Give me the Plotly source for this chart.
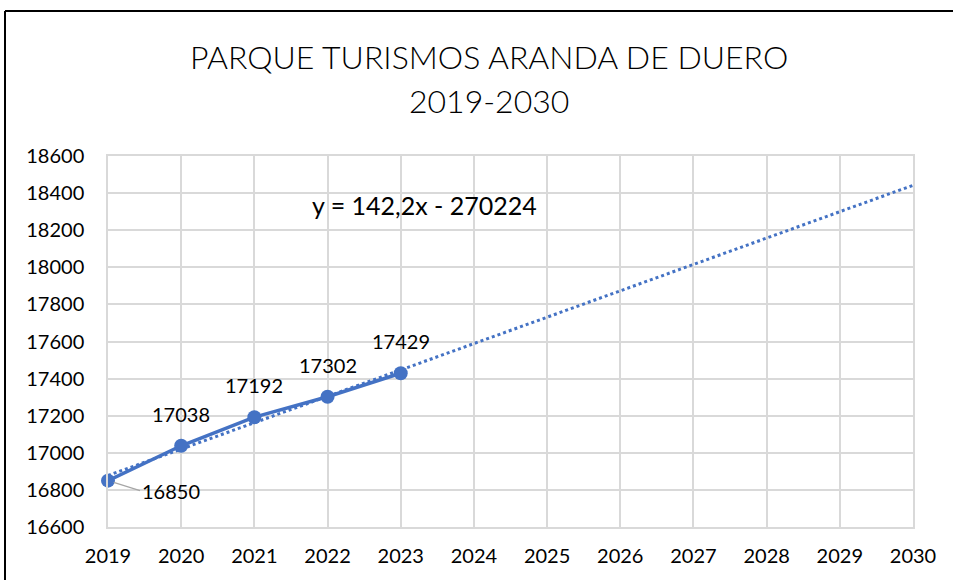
import plotly.graph_objects as go

years = [2019, 2020, 2021, 2022, 2023]
values = [16850, 17038, 17192, 17302, 17429]
trend_years = [2019, 2030]
slope = 142.2
intercept = -270224
trend_values = [slope * x + intercept for x in trend_years]
y_ticks = list(range(16600, 18601, 200))
x_ticks = list(range(2019, 2031))

BLUE = "#4472C4"
FONT = "Lato"
L, T, R, B = 108, 156, 913, 527
W, H = 953, 580


def px(xp):
    return (xp - L) / (R - L)


def py(yp):
    return (B - yp) / (B - T)


fig = go.Figure()
fig.add_trace(go.Scatter(x=trend_years, y=trend_values, mode="lines", cliponaxis=False,
                         line=dict(color=BLUE, width=3, dash="dot"), hoverinfo="skip"))
fig.add_trace(go.Scatter(x=years, y=values, mode="lines+markers", cliponaxis=False,
                         line=dict(color=BLUE, width=3.5),
                         marker=dict(color=BLUE, size=14)))

# data labels
for i, (x, v) in enumerate(zip(years, values)):
    if i == 0:
        fig.add_annotation(x=x, y=v, text=str(v), showarrow=True, ax=32, ay=10,
                           arrowhead=0, arrowcolor="#a6a6a6", arrowwidth=1.2,
                           xanchor="left", yanchor="middle", standoff=6,
                           font=dict(family=FONT, size=20, color="#000"))
    else:
        fig.add_annotation(x=x, y=v, text=str(v), showarrow=False, yshift=32,
                           font=dict(family=FONT, size=20, color="#000"))

fig.add_annotation(x=2023.33, y=18336, text="y = 142,2x - 270224", showarrow=False,
                   xanchor="center", yanchor="middle",
                   font=dict(family=FONT, size=25, color="#000"))

# title
for text, yp in [("PARQUE TURISMOS ARANDA DE DUERO", 57), ("2019-2030", 101)]:
    fig.add_annotation(xref="paper", yref="paper", x=px(489), y=py(yp),
                       text=text, showarrow=False, yanchor="middle",
                       font=dict(family=FONT, size=32, color="#000", weight=300))

# chart border (top and left visible)
fig.add_shape(type="line", xref="paper", yref="paper",
              x0=px(5), x1=px(960), y0=py(11), y1=py(11),
              line=dict(color="#000", width=2), layer="above")
fig.add_shape(type="line", xref="paper", yref="paper",
              x0=px(5), x1=px(5), y0=py(11), y1=py(590),
              line=dict(color="#000", width=2), layer="above")

fig.update_xaxes(range=[2019, 2030], tickvals=x_ticks, ticktext=[str(t) for t in x_ticks],
                 showgrid=True, gridcolor="#d9d9d9", gridwidth=1.5, zeroline=False,
                 showline=True, linecolor="#d9d9d9", linewidth=1.5, mirror=True,
                 tickfont=dict(family=FONT, size=20, color="#000"), ticks="",
                 ticklabelstandoff=10, automargin=False)
fig.update_yaxes(range=[16600, 18600], tickvals=y_ticks, ticktext=[str(t) for t in y_ticks],
                 showgrid=True, gridcolor="#d9d9d9", gridwidth=1.5, zeroline=False,
                 showline=True, linecolor="#d9d9d9", linewidth=1.5, mirror=True,
                 tickfont=dict(family=FONT, size=20, color="#000"), ticks="",
                 ticklabelstandoff=18, automargin=False)

fig.update_layout(width=W, height=H, showlegend=False,
                  margin=dict(l=L, r=W - R, t=T, b=H - B),
                  plot_bgcolor="white", paper_bgcolor="white")
fig.write_html("out.html", config={"displayModeBar": False},
               post_script="document.body.style.margin='0px';")
